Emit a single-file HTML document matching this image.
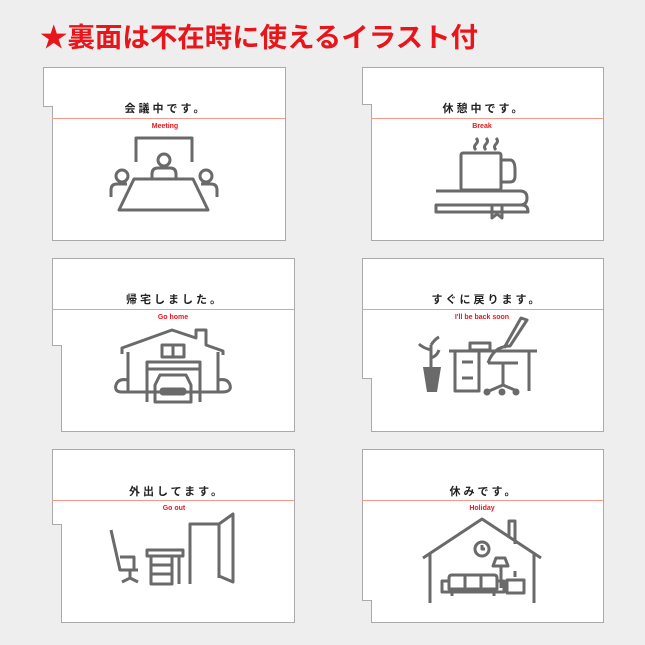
<!DOCTYPE html>
<html><head><meta charset="utf-8"><style>
html,body{margin:0;padding:0;background:#eeeeee;}
svg{display:block}
.jp{font-family:"Liberation Sans","Noto Sans CJK JP",sans-serif;font-size:11px;fill:#222;letter-spacing:3px;font-weight:bold}
.en{font-family:"Liberation Sans",sans-serif;font-size:7px;fill:#e8161b;font-weight:bold}
.ic{fill:none;stroke:#6a6a6a;stroke-width:3;stroke-linejoin:round}
</style></head><body>
<svg width="645" height="645" viewBox="0 0 645 645" xmlns="http://www.w3.org/2000/svg">
<rect width="645" height="645" fill="#eeeeee"/>
<text x="40" y="47" font-family="Liberation Sans,'Noto Sans CJK JP',sans-serif" font-size="27" font-weight="bold" fill="#e8161b" textLength="438" lengthAdjust="spacingAndGlyphs">★裏面は不在時に使えるイラスト付</text>
<g fill="#fff" stroke="#aaa" stroke-width="1">
<path d="M43.5,67.5H285.5V240.5H52.5V106.5H43.5Z"/>
<path d="M362.5,67.5H603.5V240.5H371.5V104.5H362.5Z"/>
<path d="M52.5,258.5H294.5V431.5H61.5V345.5H52.5Z"/>
<path d="M362.5,258.5H603.5V431.5H371.5V378.5H362.5Z"/>
<path d="M52.5,449.5H294.5V622.5H61.5V524.5H52.5Z"/>
<path d="M362.5,449.5H603.5V622.5H371.5V600.5H362.5Z"/>
</g>
<g stroke="#f59a8c" stroke-width="1">
<line x1="52" y1="118.5" x2="285" y2="118.5"/>
<line x1="371" y1="118.5" x2="603" y2="118.5"/>
<line x1="52" y1="309.5" x2="294" y2="309.5"/>
<line x1="362" y1="309.5" x2="603" y2="309.5"/>
<line x1="52" y1="500.5" x2="294" y2="500.5"/>
<line x1="362" y1="500.5" x2="603" y2="500.5"/>
</g>
<g text-anchor="middle">
<text class="jp" x="166" y="112">会議中です。</text><text class="en" x="165" y="128">Meeting</text>
<text class="jp" x="484" y="112">休憩中です。</text><text class="en" x="482" y="128">Break</text>
<text class="jp" x="175" y="303">帰宅しました。</text><text class="en" x="173" y="319">Go home</text>
<text class="jp" x="487" y="303">すぐに戻ります。</text><text class="en" x="482" y="319">I'll be back soon</text>
<text class="jp" x="177" y="495">外出してます。</text><text class="en" x="174" y="510">Go out</text>
<text class="jp" x="484" y="495">休みです。</text><text class="en" x="482" y="510">Holiday</text>
</g>
<!-- meeting -->
<g class="ic">
<path d="M136,162V138H192V162"/>
<circle cx="164" cy="160" r="6"/>
<path d="M152,179V174Q152,168 158,168H170Q176,168 176,174V179"/>
<circle cx="122" cy="176" r="6"/>
<path d="M111,197V190Q111,184 117,184H127"/>
<circle cx="206" cy="176" r="6"/>
<path d="M217,197V190Q217,184 211,184H201"/>
<path d="M134,179H193L208,210H119Z"/>
</g>
<!-- break -->
<g class="ic" stroke-width="2">
<path d="M476,150q-3,-3 0,-6q3,-3 0,-6M486,150q-3,-3 0,-6q3,-3 0,-6M496,150q-3,-3 0,-6q3,-3 0,-6"/>
</g>
<g class="ic">
<rect x="461" y="153" width="40" height="37" rx="2"/>
<path d="M501,160H510Q515,160 515,170V176Q515,182 510,182H501"/>
<path d="M436,191H520Q527,191 527,198Q527,205 520,205H436"/>
<path d="M436,205H522Q528,205 528,212H436Z"/>
<path d="M492,205V218L497,214L502,218V205"/>
</g>
<!-- go home -->
<g class="ic">
<path d="M122,354V348L172,330L196,338V330H206V345L223,351V355"/>
<path d="M128,352V392M218,352V392"/>
<path d="M122,392Q114,392 116,385Q118,378 128,380M218,380Q228,378 230,385Q232,392 222,392H122"/>
<rect x="162" y="345" width="22" height="12"/><line x1="173" y1="345" x2="173" y2="357"/>
<path d="M147,402V362H200V402M147,369H200"/>
<path d="M155,402V385L160,375H186L191,385V402Z"/>
<rect x="161" y="389" width="24" height="5" rx="2"/>
</g>
<!-- back soon -->
<g class="ic">
<path d="M449,351H537M455,351V391H479V351M462,362H473M462,378H473M529,351V391"/>
<rect x="470" y="343" width="20" height="7"/>
<path d="M488,363Q494,346 510,346L527,320L521,318L504,348"/>
<path d="M488,363H518M503,363V385M489,391L503,385L517,391"/>
<circle cx="487" cy="392" r="2" fill="#6a6a6a"/><circle cx="502" cy="392" r="2" fill="#6a6a6a"/><circle cx="516" cy="392" r="2" fill="#6a6a6a"/>
<path d="M431,367V345M431,350q-8,-2 -12,-6M431,358q6,-2 8,-8M431,345q4,-6 8,-8"/>
</g>
<path d="M423,367H441L437,392H427Z" fill="#6a6a6a"/>
<!-- go out -->
<g class="ic">
<path d="M111,530L120,570H138M120,557H134V570M130,570V579M122,582L130,578L138,582"/>
<path d="M147,550H183V556H147ZM151,556V584H172V556M179,556V584M151,565H172M151,574H172"/>
<path d="M190,584V524H219V578M219,524L233,514V582L219,576"/>
</g>
<!-- holiday -->
<g class="ic">
<path d="M423,558L482,519L541,558"/>
<path d="M430,554V603M534,554V603M515,544V521H509V538"/>
<circle cx="482" cy="549" r="7"/><path d="M482,545V549H485"/>
<path d="M449,589H497V578Q497,575 494,575H452Q449,575 449,578Z M449,581H442V592H504V581H497M465,575V589M481,575V589M452,592V596M494,592V596"/>
<path d="M493,566H508L505,558H496Z M501,566V588"/>
<rect x="507" y="580" width="17" height="13"/>
<path d="M515,577V571"/>
</g>
</svg>
</body></html>
